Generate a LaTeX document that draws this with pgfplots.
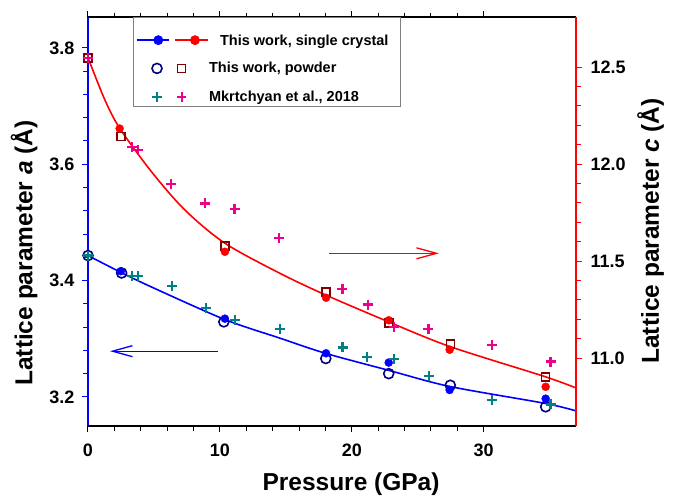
\documentclass[border=0pt]{standalone}
\usepackage{fontspec}
\setmainfont{Liberation Sans}
\usepackage{pgfplots}
\pgfplotsset{compat=1.18}
\usetikzlibrary{arrows.meta}

\definecolor{navy}{RGB}{0,0,128}
\definecolor{darkred}{RGB}{128,0,0}
\definecolor{tealc}{RGB}{0,128,128}

\pgfplotsset{
  every non boxed x axis/.style={},
  every non boxed y axis/.style={},
  common/.style={
    at={(0,0)}, anchor=south west, scale only axis,
    width=488pt, height=409pt,
    xmin=0, xmax=37,
    tick align=outside,
    major tick length=6pt, minor tick length=4.5pt,
    every tick/.append style={line width=1pt},
    tick label style={font=\bfseries\fontsize{18}{18}\selectfont},
    label style={font=\bfseries\fontsize{24.5}{24.5}\selectfont},
    /pgf/number format/assume math mode=true,
    axis line style={line width=1.5pt},
  },
  plusmark/.style={only marks, mark=+, mark size=5pt, mark options={line width=2.2pt}},
}

\begin{document}
\begin{tikzpicture}
\path[use as bounding box] (-88pt,-70pt) rectangle (589pt,426pt);

% left axis: a
\begin{axis}[common,
  ymin=3.15, ymax=3.853,
  axis x line*=box, axis y line*=left,
  x axis line style={black,-}, y axis line style={blue,-},
  xtick={0,10,20,30}, minor x tick num=4,
  ytick={3.2,3.4,3.6,3.8}, minor y tick num=4,
  xtick style={black}, ytick style={blue},
  yticklabel style={/pgf/number format/.cd, fixed, fixed zerofill, precision=1, /tikz/.cd, xshift=-4pt},
  xticklabel style={yshift=-8pt},
  xlabel={Pressure (GPa)},
  xlabel style={at={(axis description cs:0.539,-0.143)}, anchor=center},
  ylabel={Lattice parameter \textit{a} (Å)},
  ylabel style={at={(axis description cs:-0.131,0.423)}, anchor=center, rotate=0},
]
\addplot[blue, line width=1.6pt, smooth, no marks] coordinates {
  (0,3.443) (2.5,3.414) (5,3.387) (10.38,3.333) (14.55,3.301) (18,3.275)
  (22.75,3.246) (27.42,3.218) (34.62,3.189) (37,3.176)
};
\addplot[only marks, mark=o, mark size=5pt, navy, line width=1.6pt] coordinates {
  (0,3.443) (2.55,3.413) (10.3,3.329) (18.03,3.266) (22.8,3.240) (27.47,3.220) (34.7,3.183)
};
\addplot[only marks, mark=*, mark size=4pt, blue] coordinates {
  (2.48,3.416) (10.38,3.3345) (18.05,3.275) (22.8,3.259) (27.42,3.212) (34.7,3.197)
};
\addplot[plusmark, tealc] coordinates {
  (0,3.443) (3.31,3.4085) (3.81,3.4085) (6.34,3.390) (8.94,3.353) (11.14,3.332)
  (14.55,3.317) (19.3,3.285) (21.18,3.269) (23.23,3.265) (25.83,3.236) (30.62,3.195) (35.07,3.187)
};
\draw[blue, line width=1.3pt, -{Straight Barb[length=20pt,width=11pt,line width=1.3pt]}]
  (axis cs:9.88,3.2786) -- (axis cs:1.67,3.2786);
\end{axis}

% right axis: c
\begin{axis}[common,
  ymin=10.65, ymax=12.758,
  axis x line=none, axis y line*=right,
  ytick pos=right, yticklabel pos=right,
  y axis line style={red,-},
  xtick=\empty,
  ytick={11.0,11.5,12.0,12.5}, minor y tick num=4,
  ytick style={red},
  yticklabel style={/pgf/number format/.cd, fixed, fixed zerofill, precision=1, /tikz/.cd, xshift=5pt},
  ylabel={Lattice parameter \textit{c} (Å)},
  ylabel style={at={(axis description cs:1.153,0.477)}, anchor=center, rotate=0},
  legend style={at={(axis description cs:0.092,1)}, anchor=north west,
    draw=gray, line width=0.8pt, fill=white,
    font=\bfseries\fontsize{14.5}{14.5}\selectfont,
    inner xsep=3pt, inner ysep=1pt, row sep=12.5pt},
  legend cell align=left,
]
\addlegendimage{legend image code/.code={
  \draw[overlay,blue,line width=1.6pt] (0pt,-7pt) -- (32.6pt,-7pt);
  \fill[overlay,blue] (21.6pt,-7pt) circle (4.5pt);
  \draw[overlay,red,line width=1.6pt] (38.3pt,-7pt) -- (71pt,-7pt);
  \fill[overlay,red] (58.3pt,-7pt) circle (4.5pt);
  \path (0pt,-4.5pt) (81pt,4.5pt);}}
\addlegendentry{\rule{0pt}{24pt}\raisebox{-1pt}[\height][\depth]{This work, single crystal}\hspace*{7pt}}
\addlegendimage{legend image code/.code={
  \draw[navy,line width=1.6pt] (20.3pt,0pt) circle (5pt);
  \draw[darkred,line width=1.6pt] (41pt,-4pt) rectangle (49pt,4pt);
  \path (0pt,0pt) (81pt,0pt);}}
\addlegendentry{\hspace*{-11pt}This work, powder}
\addlegendimage{legend image code/.code={
  \draw[tealc,line width=2.2pt] (15.5pt,0pt) -- (25.1pt,0pt) (20.3pt,-4.8pt) -- (20.3pt,4.8pt);
  \draw[magenta,line width=2.2pt] (40.2pt,0pt) -- (49.8pt,0pt) (45pt,-4.8pt) -- (45pt,4.8pt);
  \path (0pt,0pt) (81pt,0pt);}}
\addlegendentry{\hspace*{-11pt}Mkrtchyan et al., 2018}

\addplot[forget plot, red, line width=1.6pt, smooth, no marks] coordinates {
  (0,12.548) (1.29,12.329) (2.42,12.183) (4.82,11.96) (7.35,11.763) (10.38,11.592)
  (14.55,11.437) (18,11.326) (22.75,11.188) (27.42,11.060) (34.62,10.905) (37,10.846)
};
\addplot[forget plot, only marks, mark=square, mark size=4pt, darkred, line width=1.6pt] coordinates {
  (0,12.548) (2.48,12.143) (10.38,11.579) (18.03,11.340) (22.8,11.180) (27.47,11.072) (34.7,10.902)
};
\addplot[forget plot, only marks, mark=*, mark size=4pt, red] coordinates {
  (2.4,12.183) (10.38,11.548) (18.05,11.311) (22.8,11.195) (27.42,11.043) (34.7,10.852)
};
\addplot[forget plot, plusmark, magenta] coordinates {
  (0,12.548) (3.34,12.088) (3.81,12.071) (6.29,11.897) (8.89,11.797) (11.11,11.768)
  (14.49,11.617) (19.29,11.356) (21.2,11.276) (23.23,11.161) (25.81,11.151) (30.62,11.069) (35.07,10.982)
};
\draw[red, line width=1.3pt, -{Straight Barb[length=20pt,width=11pt,line width=1.3pt]}]
  (axis cs:18.28,11.54) -- (axis cs:26.61,11.54);
\end{axis}
\end{tikzpicture}
\end{document}
